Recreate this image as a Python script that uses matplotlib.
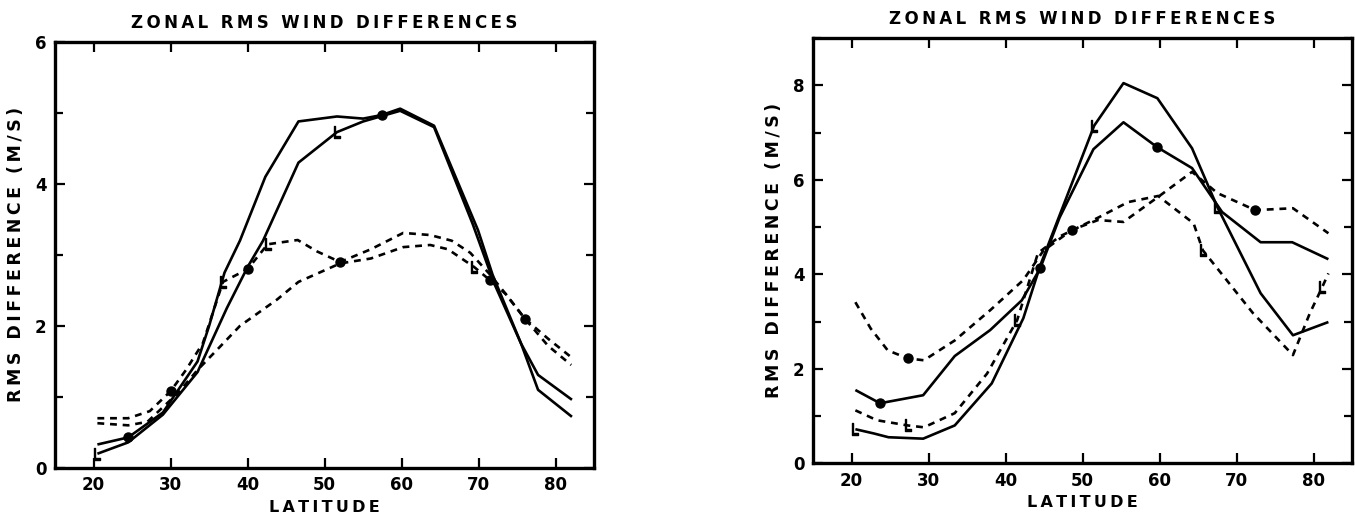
import matplotlib
matplotlib.use("Agg")
import matplotlib.pyplot as plt
from matplotlib.ticker import MultipleLocator

# left panel: two solid and two dashed curves
a_lat = [20.5, 24.5, 29, 31, 33.5, 35, 37, 39, 42.3, 46.6, 51.6, 55, 57.4, 59.8, 64.2, 69.9, 71.8, 75.5, 77.7, 82.1]
a_val = [0.33, 0.43, 0.78, 1.10, 1.50, 2.00, 2.75, 3.20, 4.10, 4.88, 4.95, 4.92, 4.97, 5.06, 4.82, 3.35, 2.72, 1.75, 1.10, 0.72]
b_lat = [20.5, 24.5, 29, 33.5, 37.3, 40, 42, 46.6, 51.6, 55, 59.8, 64.2, 69.2, 72, 75.5, 77.7, 82.1]
b_val = [0.20, 0.36, 0.75, 1.35, 2.25, 2.83, 3.20, 4.30, 4.73, 4.88, 5.03, 4.80, 3.44, 2.60, 1.75, 1.31, 0.96]
c_lat = [20.5, 24.5, 27.3, 30, 32, 34.2, 36.8, 40, 42.6, 46.5, 49, 52, 56, 60.2, 63.7, 66.5, 68.9, 71.5, 73.5, 76, 79, 82]
c_val = [0.70, 0.70, 0.80, 1.08, 1.38, 1.76, 2.62, 2.80, 3.15, 3.21, 3.05, 2.90, 3.08, 3.31, 3.28, 3.20, 3.03, 2.72, 2.45, 2.10, 1.82, 1.56]
d_lat = [20.5, 24.5, 27, 31, 33.5, 36, 39, 43.8, 46.6, 52, 56, 60.2, 63.7, 66, 69.4, 71.5, 73.5, 76, 79, 82]
d_val = [0.63, 0.60, 0.65, 1.06, 1.38, 1.66, 2.00, 2.37, 2.62, 2.88, 2.95, 3.11, 3.14, 3.08, 2.83, 2.64, 2.45, 2.10, 1.72, 1.45]

# right panel
e_lat = [20.5, 22.9, 24.8, 29.3, 33.4, 38.2, 42.3, 44.5, 51.5, 55.3, 59.7, 64.2, 67.5, 73.1, 77.3, 81.9]
e_val = [0.72, 0.63, 0.55, 0.52, 0.80, 1.69, 3.07, 4.19, 7.15, 8.05, 7.73, 6.67, 5.42, 3.60, 2.71, 2.99]
f_lat = [20.5, 23.7, 29.3, 33.4, 38, 42.1, 44.5, 47, 51.4, 55.3, 59.7, 64.2, 68.1, 73.1, 77.2, 81.9]
f_val = [1.55, 1.27, 1.44, 2.27, 2.82, 3.45, 4.13, 5.20, 6.65, 7.22, 6.69, 6.25, 5.32, 4.68, 4.68, 4.32]
g_lat = [20.5, 22.5, 24.7, 27.3, 29.4, 33.4, 38, 42.3, 44.9, 48.6, 52, 55.3, 59.8, 64.2, 67.5, 72.4, 77.3, 81.9]
g_val = [3.41, 2.85, 2.39, 2.22, 2.18, 2.60, 3.24, 3.88, 4.50, 4.94, 5.15, 5.11, 5.64, 6.17, 5.72, 5.36, 5.40, 4.87]
h_lat = [20.5, 23.3, 27.3, 29.4, 33.4, 37.6, 41.5, 44.2, 47, 52, 55.9, 59.8, 64.4, 65.6, 72.1, 77.3, 79.5, 81.1, 81.9]
h_val = [1.12, 0.91, 0.80, 0.76, 1.06, 1.90, 3.03, 4.45, 4.80, 5.20, 5.53, 5.66, 5.08, 4.51, 3.18, 2.29, 3.18, 3.73, 4.02]

x_ticks = [20, 30, 40, 50, 60, 70, 80]
title = "ZONAL RMS WIND DIFFERENCES"
xlab = "LATITUDE"
ylab = "RMS DIFFERENCE (M/S)"

dash = (0, (2.6, 2.2))
LMARK = r"$\mathsf{L}$"


def spaced(s):
    return "\u2009".join(s)


def curve(ax, lat, val, ls, dots=(), ells=()):
    ax.plot(lat, val, color="black", lw=1.9, ls=ls, solid_capstyle="butt")
    if dots:
        ax.plot([lat[i] for i in dots], [val[i] for i in dots], ls="none",
                marker="o", ms=6.5, color="black")
    if ells:
        ax.plot([lat[i] for i in ells], [val[i] for i in ells], ls="none",
                marker=LMARK, ms=8, color="black")


def style(ax, ymax, yticks):
    ax.set_xlim(15, 85)
    ax.set_ylim(0, ymax)
    ax.set_xticks(x_ticks)
    ax.set_yticks(yticks)
    ax.yaxis.set_minor_locator(MultipleLocator(1))
    ax.tick_params(which="both", direction="in", top=True, right=True,
                   width=1.6, labelsize=12, pad=6)
    ax.tick_params(which="major", length=7)
    ax.tick_params(which="minor", length=6)
    for lab in ax.get_xticklabels() + ax.get_yticklabels():
        lab.set_fontweight("bold")
    for sp in ax.spines.values():
        sp.set_linewidth(2.4)
    ax.set_title(spaced(title), fontsize=12, fontweight="bold", pad=10)
    ax.set_xlabel(spaced(xlab), fontsize=11.5, fontweight="bold", labelpad=4)
    ax.set_ylabel(spaced(ylab), fontsize=12.5, fontweight="bold", labelpad=7)


fig = plt.figure(figsize=(13.55, 5.24), dpi=100)
ax1 = fig.add_axes([0.0406, 0.107, 0.398, 0.813])
ax2 = fig.add_axes([0.600, 0.116, 0.398, 0.811])

curve(ax1, a_lat, a_val, "-", dots=(1, 12))
curve(ax1, b_lat, b_val, "-", ells=(0, 8))
curve(ax1, c_lat, c_val, dash, dots=(3, 7, 11), ells=(6, 8))
curve(ax1, d_lat, d_val, dash, dots=(15, 17), ells=(14,))
style(ax1, 6, [0, 2, 4, 6])

curve(ax2, e_lat, e_val, "-", ells=(0, 8, 12))
curve(ax2, f_lat, f_val, "-", dots=(1, 6, 10))
curve(ax2, g_lat, g_val, dash, dots=(3, 9, 15))
curve(ax2, h_lat, h_val, dash, ells=(2, 6, 13, 17))
style(ax2, 9, [0, 2, 4, 6, 8])

fig.savefig("out.png", dpi=100)
